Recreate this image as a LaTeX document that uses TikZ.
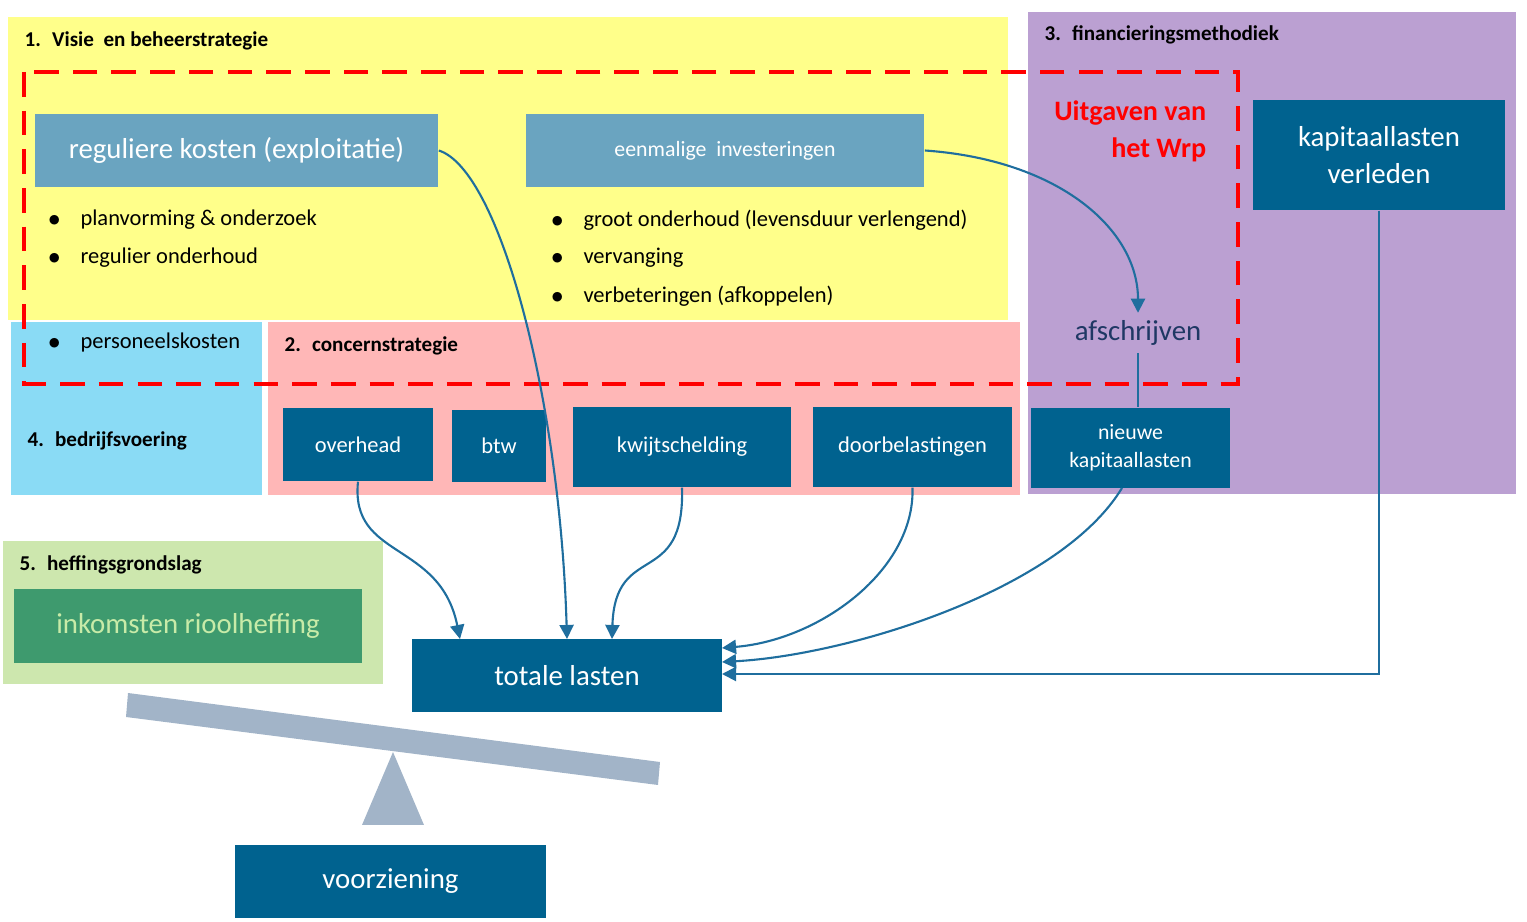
\documentclass[tikz,border=0pt]{standalone}
\usepackage{fontspec}
\setmainfont{Carlito}
\usetikzlibrary{arrows.meta}
\definecolor{yel}{HTML}{FFFF8A}
\definecolor{pur}{HTML}{BBA0D2}
\definecolor{lblue}{HTML}{8ADBF5}
\definecolor{pink}{HTML}{FFB7B7}
\definecolor{lgreen}{HTML}{CDE7AE}
\definecolor{steel}{HTML}{6AA4C0}
\definecolor{dark}{HTML}{00628F}
\definecolor{grn}{HTML}{3E9A6E}
\definecolor{grntxt}{HTML}{C8EBA8}
\definecolor{line}{HTML}{1F6E9E}
\definecolor{beam}{HTML}{A2B4C8}
\definecolor{navy}{HTML}{1F3864}
\tikzset{
 dbox/.style={fill=dark,text=white,inner sep=0,align=center},
 sbox/.style={fill=steel,text=white,inner sep=0,align=center},
 hdr/.style={anchor=west,font=\fontsize{6}{7}\selectfont\bfseries,inner sep=0},
 bul/.style={anchor=west,font=\fontsize{6.4}{7.5}\selectfont,inner sep=0},
 conn/.style={line,line width=0.6pt,-{Triangle[length=4pt,width=4pt]}},
}
\begin{document}
\begin{tikzpicture}[x=0.01cm,y=-0.01cm]
\useasboundingbox (0,0) rectangle (1527,922);
\fill[yel] (8,17) rectangle (1008,320);
\fill[pur] (1028,12) rectangle (1516,494);
\fill[lblue] (11,322) rectangle (262,495);
\fill[pink] (268,322) rectangle (1020,495);
\fill[lgreen] (3,541) rectangle (383,684);
\node[hdr] (h1) at (24,41) {1.~ Visie ~en beheerstrategie};
\node[hdr] (h3) at (1044,35) {3.~ financieringsmethodiek};
\node[hdr] (h2) at (284,346) {2.~ concernstrategie};
\node[hdr] (h4) at (27,441) {4.~ bedrijfsvoering};
\node[hdr] (h5) at (19,565) {5.~ heffingsgrondslag};
\node[sbox,minimum width=4.03cm,minimum height=0.73cm,font=\fontsize{8.2}{9}\selectfont] (reg) at (236.5,150.5) {reguliere kosten (exploitatie)};
\node[sbox,minimum width=3.98cm,minimum height=0.73cm,font=\fontsize{6.2}{7}\selectfont] (een) at (725,150.5) {eenmalige ~investeringen};
\node[dbox,minimum width=2.52cm,minimum height=1.10cm,font=\fontsize{8.2}{10.5}\selectfont] (kap) at (1379,155) {kapitaallasten\\verleden};
\node[bul] (b1) at (47,220) {$\bullet$\hspace{5.5pt}planvorming \& onderzoek};
\node[bul] (b2) at (47,258) {$\bullet$\hspace{5.5pt}regulier onderhoud};
\node[bul] (b3) at (47,343) {$\bullet$\hspace{5.5pt}personeelskosten};
\node[bul] (b4) at (550,220) {$\bullet$\hspace{5.5pt}groot onderhoud (levensduur verlengend)};
\node[bul] (b5) at (550,258) {$\bullet$\hspace{5.5pt}vervanging};
\node[bul] (b6) at (550,296) {$\bullet$\hspace{5.5pt}verbeteringen (afkoppelen)};
\node[text=red,font=\fontsize{8}{10.5}\selectfont\bfseries,align=right,anchor=north east,inner sep=0] (uit) at (1207,100) {Uitgaven van\\het Wrp};
\node[text=navy,font=\fontsize{8.2}{9}\selectfont,inner sep=2] (afs) at (1138,333) {afschrijven};
\draw[red,line width=1.3pt,dash pattern=on 7pt off 4pt] (24,72) rectangle (1238,384);
\node[dbox,minimum width=1.50cm,minimum height=0.73cm,font=\fontsize{6.4}{7.5}\selectfont] (ovh) at (358,444.5) {overhead};
\node[dbox,minimum width=0.94cm,minimum height=0.72cm,font=\fontsize{6.4}{7.5}\selectfont] (btw) at (499,446) {btw};
\node[dbox,minimum width=2.18cm,minimum height=0.80cm,font=\fontsize{6.4}{7.5}\selectfont] (kwt) at (682,447) {kwijtschelding};
\node[dbox,minimum width=1.99cm,minimum height=0.80cm,font=\fontsize{6.4}{7.5}\selectfont] (doo) at (912.5,447) {doorbelastingen};
\node[dbox,minimum width=1.99cm,minimum height=0.80cm,font=\fontsize{6.2}{8}\selectfont] (nie) at (1130.5,448) {nieuwe\\kapitaallasten};
\node[fill=grn,text=grntxt,minimum width=3.48cm,minimum height=0.74cm,inner sep=0,font=\fontsize{8.2}{9}\selectfont] (ink) at (188,626) {inkomsten rioolheffing};
\node[dbox,minimum width=3.10cm,minimum height=0.73cm,font=\fontsize{8.2}{9}\selectfont] (tot) at (567,675.5) {totale lasten};
\node[dbox,minimum width=3.11cm,minimum height=0.73cm,font=\fontsize{8.2}{9}\selectfont] (voo) at (390.5,881.5) {voorziening};
\fill[beam] (128,693) -- (660,762) -- (658,785) -- (126,717) -- cycle;
\fill[beam] (393,752) -- (424,825) -- (362,825) -- cycle;
\coordinate (tA) at (460,639); \coordinate (tB) at (567,639); \coordinate (tC) at (612,639);
\coordinate (rA) at (722,648); \coordinate (rB) at (722,662); \coordinate (rC) at (722,674);
\coordinate (nb) at (1122,488);
\draw[conn] (reg.east) .. controls (500,170) and (560,400) .. (tB);
\draw[conn] (een.east) .. controls (1060,160) and (1138,230) .. (afs.north);
\draw[line,line width=0.6pt] (afs.south) -- (afs.south |- nie.north);
\draw[conn] (ovh.south) .. controls (350,560) and (440,540) .. (tA);
\draw[conn] (kwt.south) .. controls (685,590) and (615,540) .. (tC);
\draw[conn] (doo.south) .. controls (915,570) and (820,640) .. (rA);
\draw[conn] (nb) .. controls (1060,590) and (850,655) .. (rB);
\draw[conn] (kap.south) -- (kap.south |- rC) -- (rC);
\end{tikzpicture}
\end{document}
